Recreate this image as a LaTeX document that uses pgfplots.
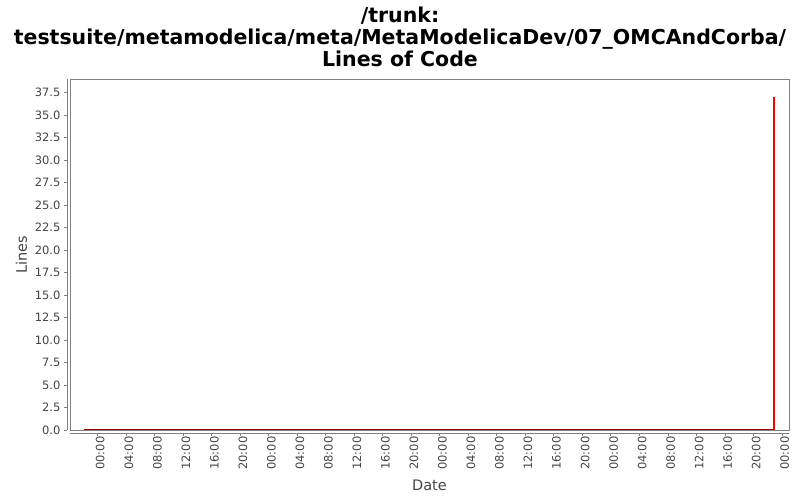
\documentclass[border=0pt]{standalone}
\usepackage{fontspec}
\setmainfont{DejaVu Sans}
\usepackage{pgfplots}
\pgfplotsset{compat=1.18}
\definecolor{axisgray}{RGB}{128,128,128}
\definecolor{labelgray}{RGB}{68,68,68}
\definecolor{darkline}{RGB}{150,0,0}
\begin{document}
\begin{tikzpicture}
\path[use as bounding box] (-70pt,-70pt) rectangle (730pt,430pt);
\begin{axis}[
  at={(0,0)}, anchor=south west,
  scale only axis, width=719pt, height=351pt,
  xmin=-3.83, xmax=97.03, ymin=0, ymax=39,
  axis lines*=left,
  axis line style={axisgray,-},
  x axis line style={yshift=-3pt},
  y axis line style={xshift=-3pt},
  tick align=outside, major tick length=3pt,
  x tick style={axisgray, yshift=-3pt},
  y tick style={axisgray, xshift=-3pt},
  xtick={0,4,...,96},
  xticklabels={00:00,04:00,08:00,12:00,16:00,20:00,00:00,04:00,08:00,12:00,16:00,20:00,00:00,04:00,08:00,12:00,16:00,20:00,00:00,04:00,08:00,12:00,16:00,20:00,00:00},
  x tick label style={rotate=90, anchor=east, font=\fontsize{11.5}{13}\selectfont, text=labelgray, yshift=-3pt},
  ytick={0,2.5,...,37.5},
  /pgf/number format/fixed, /pgf/number format/fixed zerofill,
  /pgf/number format/precision=1, /pgf/number format/assume math mode=true,
  y tick label style={font=\fontsize{11.5}{13}\selectfont, text=labelgray, xshift=-3pt},
  xlabel={Date}, ylabel={Lines},
  label style={font=\fontsize{14.5}{16}\selectfont, text=labelgray},
  xlabel style={yshift=-3pt},
  ylabel style={yshift=1pt},
  clip=false,
]
\addplot[darkline, line width=1.4pt] coordinates {(-1.87,0) (94.92,0)};
\addplot[red, line width=2pt] coordinates {(94.92,0) (94.92,37)};
\draw[axisgray] (rel axis cs:0,0) rectangle (rel axis cs:1,1);
\end{axis}
\node[align=center, font=\fontsize{20.5}{22}\selectfont\bfseries] at (330pt,393pt)
  {/trunk:\\testsuite/metamodelica/meta/MetaModelicaDev/07\_OMCAndCorba/\\Lines of Code};
\end{tikzpicture}
\end{document}
